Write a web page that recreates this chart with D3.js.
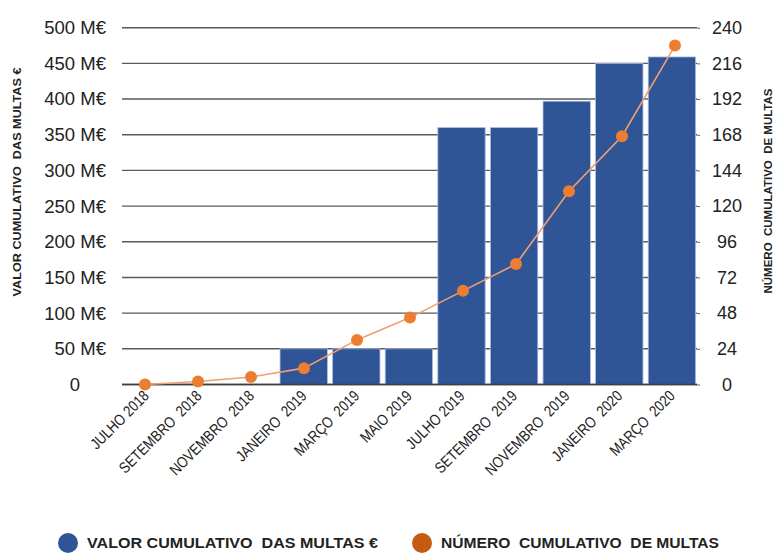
<!DOCTYPE html>
<html>
<head>
<meta charset="utf-8">
<script src="https://cdn.jsdelivr.net/npm/d3@7/dist/d3.min.js"></script>
<style>
  html, body { margin: 0; padding: 0; background: #fff; }
  svg { display: block; }
  text { font-family: "Liberation Sans", Arial, sans-serif; }
</style>
</head>
<body>
<svg id="chart" width="775" height="553"></svg>
<script>
// Cumulative fines, July 2018 – March 2020
const months = ["JULHO 2018", "SETEMBRO  2018", "NOVEMBRO  2018", "JANEIRO  2019", "MARÇO  2019",
  "MAIO 2019", "JULHO 2019", "SETEMBRO  2019", "NOVEMBRO  2019", "JANEIRO  2020", "MARÇO  2020"];
const cumulativeValue = [0, 0, 0, 50, 50, 50, 360, 360, 397, 450, 459];   // M€
const cumulativeCount = [0, 2, 5, 11, 30, 45, 63, 81, 130, 167, 228];     // number of fines
const leftTicks = [0, 50, 100, 150, 200, 250, 300, 350, 400, 450, 500];
const rightTicks = [0, 24, 48, 72, 96, 120, 144, 168, 192, 216, 240];
const leftTitle = "VALOR CUMULATIVO  DAS MULTAS €";
const rightTitle = "NÚMERO  CUMULATIVO  DE MULTAS";
const legendItems = [
  { label: "VALOR CUMULATIVO  DAS MULTAS €", color: "#2F5597" },
  { label: "NÚMERO  CUMULATIVO  DE MULTAS", color: "#C55A11" }
];

const svg = d3.select("#chart");
const plot = { left: 122, right: 697, top: 27.7, bottom: 384.5 };

const x = d3.scaleBand().domain(months).range([119.6, 698.2]).paddingInner(0.1).paddingOuter(0.05);
const xLine = d3.scalePoint().domain(months).range([145, 675]);
const yLeft = d3.scaleLinear().domain([0, 500]).range([plot.bottom, plot.top]);
const yRight = d3.scaleLinear().domain([0, 240]).range([plot.bottom, plot.top]);

// gridlines
svg.append("g")
  .selectAll("line")
  .data(leftTicks)
  .join("line")
  .attr("x1", plot.left).attr("x2", plot.right)
  .attr("y1", d => yLeft(d)).attr("y2", d => yLeft(d))
  .attr("stroke", d => d === 0 ? "#404040" : "#5a5a5a")
  .attr("stroke-width", 1.4);

// left axis labels
const leftAxis = d3.axisLeft(yLeft).tickValues(leftTicks)
  .tickFormat(d => d === 0 ? "0" : d + " M€").tickSize(0).tickPadding(0);
svg.append("g")
  .attr("transform", `translate(106,0)`)
  .call(leftAxis)
  .call(g => g.select(".domain").remove())
  .call(g => g.selectAll("text").attr("font-size", 18.5).attr("fill", "#222")
    .attr("font-family", "'Liberation Sans', Arial, sans-serif")
    .attr("text-anchor", d => d === 0 ? "middle" : "end")
    .attr("x", d => d === 0 ? -31 : 0));

// right axis
const rightAxis = d3.axisRight(yRight).tickValues(rightTicks).tickSize(3).tickPadding(12);
svg.append("g")
  .attr("transform", `translate(${plot.right},0)`)
  .call(rightAxis)
  .call(g => g.select(".domain").remove())
  .call(g => g.selectAll("line").attr("stroke", "#666"))
  .call(g => g.selectAll("text").attr("font-size", 18).attr("fill", "#222")
    .attr("font-family", "'Liberation Sans', Arial, sans-serif")
    .attr("text-anchor", "middle").attr("x", 30));

// bars
svg.append("g")
  .selectAll("rect")
  .data(months.map((m, i) => ({ m, v: cumulativeValue[i] })).filter(d => d.v > 0))
  .join("rect")
  .attr("x", d => x(d.m))
  .attr("width", x.bandwidth())
  .attr("y", d => yLeft(d.v))
  .attr("height", d => yLeft(0) - yLeft(d.v))
  .attr("fill", "#2F5597")
  .attr("stroke", "#A9BCE0")
  .attr("stroke-width", 0.8);

// baseline drawn over bars
svg.append("line")
  .attr("x1", plot.left).attr("x2", plot.right)
  .attr("y1", yLeft(0)).attr("y2", yLeft(0))
  .attr("stroke", "#404040").attr("stroke-width", 1.4);

// count line
const line = d3.line().x((d, i) => xLine(months[i])).y(d => yRight(d));
svg.append("path")
  .datum(cumulativeCount)
  .attr("d", line)
  .attr("fill", "none")
  .attr("stroke", "#F0A070")
  .attr("stroke-width", 1.6);
svg.append("g")
  .selectAll("circle")
  .data(cumulativeCount)
  .join("circle")
  .attr("cx", (d, i) => xLine(months[i]))
  .attr("cy", d => yRight(d))
  .attr("r", 6)
  .attr("fill", "#ED7D31");

// category labels, slanted
svg.append("g")
  .selectAll("text")
  .data(months)
  .join("text")
  .attr("transform", d => `translate(${x(d) + x.bandwidth() / 2 + 4},${397}) rotate(-45) scale(0.84,1)`)
  .attr("text-anchor", "end")
  .attr("font-size", 15.5)
  .attr("fill", "#222")
  .style("white-space", "pre")
  .text(d => d);

// axis titles
svg.append("text")
  .attr("transform", `translate(21,182) rotate(-90)`)
  .attr("text-anchor", "middle")
  .attr("font-size", 10).attr("font-weight", "bold").attr("fill", "#222")
  .attr("textLength", 229).attr("lengthAdjust", "spacingAndGlyphs")
  .style("white-space", "pre")
  .text(leftTitle);
svg.append("text")
  .attr("transform", `translate(772,191) rotate(-90)`)
  .attr("text-anchor", "middle")
  .attr("font-size", 10).attr("font-weight", "bold").attr("fill", "#222")
  .attr("textLength", 205).attr("lengthAdjust", "spacingAndGlyphs")
  .style("white-space", "pre")
  .text(rightTitle);

// legend
const legendX = [68, 422];
const legendW = [291, 278];
const legend = svg.append("g")
  .selectAll("g")
  .data(legendItems)
  .join("g")
  .attr("transform", (d, i) => `translate(${legendX[i]},543)`);
legend.append("circle").attr("r", 10).attr("fill", d => d.color);
legend.append("text")
  .attr("x", 19).attr("y", 5)
  .attr("font-size", 14).attr("font-weight", "bold").attr("fill", "#222")
  .attr("textLength", (d, i) => legendW[i]).attr("lengthAdjust", "spacingAndGlyphs")
  .style("white-space", "pre")
  .text(d => d.label);
</script>
</body>
</html>
